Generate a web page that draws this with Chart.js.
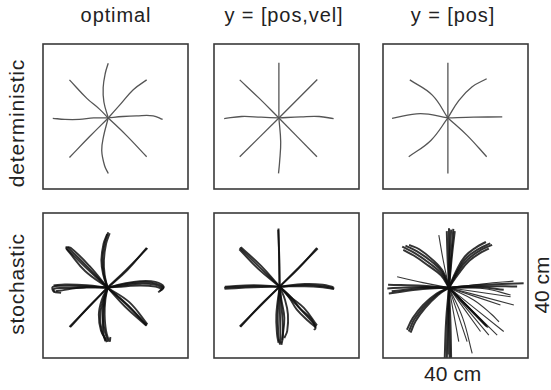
<!DOCTYPE html>
<html>
<head>
<meta charset="utf-8">
<script src="https://cdn.jsdelivr.net/npm/chart.js@4/dist/chart.umd.min.js"></script>
<style>
  body { margin: 0; background: #fff; width: 551px; height: 390px; overflow: hidden; position: relative;
         font-family: "Liberation Sans", Arial, sans-serif; color: #222; }
  .panel { position: absolute; width: 147px; height: 147px; }
  .title { position: absolute; top: 4px; width: 170px; text-align: center; font-size: 20px; letter-spacing: 0.9px; white-space: nowrap; }
  .rowlab { position: absolute; width: 160px; text-align: center; font-size: 21px; letter-spacing: 0.8px; white-space: nowrap;
            transform: rotate(-90deg); transform-origin: center center; }
  .scale { position: absolute; font-size: 21px; white-space: nowrap; }
</style>
</head>
<body>
<div class="title" style="left:31px">optimal</div>
<div class="title" style="left:199px">y = [pos,vel]</div>
<div class="title" style="left:368px">y = [pos]</div>

<div class="rowlab" style="left:-63px; top:111px">deterministic</div>
<div class="rowlab" style="left:-63px; top:272px">stochastic</div>

<canvas class="panel" id="p1" width="147" height="147" style="left:42px; top:43px"></canvas>
<canvas class="panel" id="p2" width="147" height="147" style="left:213px; top:43px"></canvas>
<canvas class="panel" id="p3" width="147" height="147" style="left:382px; top:43px"></canvas>
<canvas class="panel" id="p4" width="147" height="147" style="left:42px; top:212px"></canvas>
<canvas class="panel" id="p5" width="147" height="147" style="left:213px; top:212px"></canvas>
<canvas class="panel" id="p6" width="147" height="147" style="left:382px; top:212px"></canvas>

<div class="scale" style="left:424px; top:362px">40 cm</div>
<div class="scale" style="left:512px; top:273px; width:60px; text-align:center; transform: rotate(-90deg)">40 cm</div>

<script>
// hand positions in cm, workspace is 40 x 40 cm centred on 0,0
// each trajectory is a list of [x, y] points, start point first

const detOptimal = [
  [[-2, -0.4], [-3.2, 4], [-3.4, 8], [-2.8, 12], [-2, 14.7]],
  [[-2, -0.4], [1.2, 3.2], [4.9, 7.4], [8.6, 10.1]],
  [[-2, -0.4], [2, 0], [5.8, 0.2], [10.4, 0.2], [13, -0.8]],
  [[-2, -0.4], [3, -5.2], [8.6, -11.1]],
  [[-2, -0.4], [-3.3, -5.5], [-3.8, -9.4], [-3, -13.6], [-2, -15.7]],
  [[-2, -0.4], [-7.2, -5.6], [-12.7, -11.3]],
  [[-2, -0.4], [-6, -0.4], [-10, -0.8], [-14, -0.8], [-17.3, -0.5]],
  [[-2, -0.4], [-4.5, 2.1], [-7.9, 5], [-12.7, 10.1]]
];

const detPosVel = [
  [[-2.1, -0.4], [-2.1, 7], [-2.1, 14.8]],
  [[-2.1, -0.4], [8.5, 10.2]],
  [[-2.1, -0.4], [4, -0.1], [9, 0], [13, -0.6]],
  [[-2.1, -0.4], [8.4, -11.1]],
  [[-2.1, -0.4], [-1.6, -7], [-1.9, -12.5], [-2.2, -15.7]],
  [[-2.1, -0.4], [-12.9, -11.1]],
  [[-2.1, -0.4], [-7, -0.2], [-12.4, 0], [-17.2, -0.6]],
  [[-2.1, -0.4], [-7.5, 5], [-12.9, 10.1]]
];

const detPos = [
  [[-2.1, -0.4], [-2.1, 14.8]],
  [[-2.1, -0.4], [0.9, 4.4], [4.6, 8.2], [8.6, 10.4]],
  [[-2.1, -0.4], [5, -0.2], [12.9, -0.1]],
  [[-2.1, -0.4], [3.2, -5.2], [8.6, -11.1]],
  [[-2.1, -0.4], [-2.1, -15.7]],
  [[-2.1, -0.4], [-6.8, -6.6], [-12.9, -11.1]],
  [[-2.1, -0.4], [-9.7, 0.8], [-17.5, -0.5]],
  [[-2.1, -0.4], [-6.4, 5.9], [-12.6, 10.1]]
];

const stoOptimal = [
  // up
  [[-2.2, -0.6], [-3.2, 3], [-3.6, 7], [-3, 11.5], [-2, 14.7]],
  [[-2.2, -0.6], [-3, 3], [-3.2, 7], [-2.6, 11.5], [-1.6, 14.4]],
  [[-2.2, -0.6], [-3.4, 3], [-3.9, 7], [-3.3, 11.5], [-2.3, 14.2]],
  // up-right
  [[-2.2, -0.6], [3, 4.4], [8.8, 10.3]],
  [[-2.2, -0.6], [3.2, 4.2], [8.6, 10.4]],
  // right
  [[-2.2, -0.6], [2.2, 0.3], [6.8, 0.9], [10.9, 0.6], [13.2, -0.6], [11.8, -1.9]],
  [[-2.2, -0.6], [2.2, 0], [6.8, 0.5], [11, 0.2], [13, -0.6]],
  [[-2.2, -0.6], [2.2, 0.5], [6.8, 1.2], [11, 1], [13.3, -0.3], [12.2, -1.5]],
  [[-2.2, -0.6], [3, -0.2], [7, 0], [11, -0.3], [12.8, -0.9]],
  // down-right
  [[-2.2, -0.6], [3.2, -5.2], [8.6, -10.9]],
  [[-2.2, -0.6], [2.6, -5.8], [8.4, -11]],
  [[-2.2, -0.6], [3.8, -4.6], [8.8, -10.7]],
  [[-2.2, -0.6], [3.4, -5.6], [8.6, -11.1]],
  // down
  [[-2.2, -0.6], [-3.2, -4], [-3.6, -8], [-3, -12.5], [-2, -15.5]],
  [[-2.2, -0.6], [-3.8, -4], [-4.6, -8], [-4, -12.5], [-2.6, -15]],
  [[-2.2, -0.6], [-2.8, -4], [-3, -8], [-2.6, -12.5], [-1.6, -15.3], [-1.4, -14.2]],
  [[-2.2, -0.6], [-3.4, -4], [-4.2, -8], [-3.8, -12.5], [-2.4, -15.6]],
  [[-2.2, -0.6], [-3, -4], [-3.4, -8.5], [-3.4, -13], [-2.8, -15.4]],
  // down-left
  [[-2.2, -0.6], [-12.7, -11.4]],
  [[-2.2, -0.6], [-7.5, -6], [-12.5, -11.5]],
  // left
  [[-2.2, -0.6], [-8, -0.2], [-14, -0.1], [-17.3, -0.4], [-17, -1.7], [-15, -2]],
  [[-2.2, -0.6], [-8, -0.6], [-14, -0.7], [-17, -0.9], [-16.8, -1.9]],
  [[-2.2, -0.6], [-8, 0.1], [-14, 0.3], [-17.1, 0]],
  [[-2.2, -0.6], [-8, -0.4], [-14, -1.2], [-16.5, -1.6]],
  // up-left
  [[-2.2, -0.6], [-7.8, 4.6], [-13.7, 10.4]],
  [[-2.2, -0.6], [-7.2, 5.4], [-12.4, 10.4], [-13.8, 10.6]],
  [[-2.2, -0.6], [-8.4, 4], [-12.8, 9.2], [-13.6, 10.2]],
  [[-2.2, -0.6], [-7.6, 5], [-13.2, 10.6]]
];

const stoPosVel = [
  // up
  [[-1.9, -0.3], [-2.2, 15.7]],
  [[-1.9, -0.3], [-2, 8], [-2.3, 15.4]],
  // up-right
  [[-1.9, -0.3], [8.6, 10.2]],
  [[-1.9, -0.3], [3.4, 4.8], [8.4, 10.4]],
  // right
  [[-1.9, -0.3], [5, 0.1], [10, -0.2], [13.2, -0.8]],
  [[-1.9, -0.3], [5, 0.4], [10, 0.2], [13, -0.5]],
  [[-1.9, -0.3], [5, -0.2], [10, -0.5], [13.1, -1]],
  // down-right
  [[-1.9, -0.3], [3.2, -5.8], [8.2, -11.3]],
  [[-1.9, -0.3], [1.5, -3.5], [3.8, -6.4], [6.8, -9.2], [8, -11.7], [7.6, -12.3]],
  [[-1.9, -0.3], [0.8, -3.4], [2.8, -6.6], [6, -9.8], [8.2, -11.6]],
  [[-1.9, -0.3], [1.2, -3.2], [4.8, -6.2], [8.4, -11]],
  // down
  [[-1.9, -0.3], [-1.8, -8], [-1.6, -16]],
  [[-1.9, -0.3], [-2.4, -8], [-2.2, -14], [-1.8, -16.3]],
  [[-1.9, -0.3], [-1.2, -8], [-1, -14], [-1.4, -16.4]],
  [[-1.9, -0.3], [-0.4, -4], [0.4, -8], [0.2, -12.5], [-0.6, -14.5]],
  [[-1.9, -0.3], [-2.8, -8], [-2.6, -13.5], [-2.2, -15.8]],
  [[-1.9, -0.3], [-1.4, -4], [-0.6, -9], [-1.2, -15]],
  // down-left
  [[-1.9, -0.3], [-12.9, -11.3]],
  [[-1.9, -0.3], [-7.4, -5.6], [-12.7, -11.4]],
  // left
  [[-1.9, -0.3], [-9, -0.2], [-17.2, -0.6]],
  [[-1.9, -0.3], [-9, 0.1], [-17, -0.3]],
  [[-1.9, -0.3], [-9, -0.5], [-17.1, -0.9]],
  // up-left
  [[-1.9, -0.3], [-7.4, 5], [-12.9, 10.4]],
  [[-1.9, -0.3], [-7, 5.4], [-12.6, 10.6]],
  [[-1.9, -0.3], [-7.8, 4.6], [-13, 10]]
];

// y = [pos]: dense bundles toward the targets ...
const stoPos = [
  // up
  [[-1.8, -0.6], [-1.8, 15.8]],
  [[-1.8, -0.6], [-1.2, 8], [-0.6, 15.6]],
  [[-1.8, -0.6], [-1.6, 8], [-1.2, 15.4]],
  [[-1.8, -0.6], [-2.2, 8], [-2.4, 15]],
  [[-1.8, -0.6], [-1, 8], [-0.2, 15]],
  // up-right
  [[-1.8, -0.6], [0.6, 3.6], [3.4, 7.2], [7, 9.8], [10.1, 11.2]],
  [[-1.8, -0.6], [0.4, 3.8], [3, 7.6], [6.6, 10.2], [9.6, 11.6]],
  [[-1.8, -0.6], [0.8, 3.2], [3.8, 6.8], [7.2, 9.2], [9.2, 10.2]],
  [[-1.8, -0.6], [0.2, 4], [2.6, 8], [5.8, 10.6], [8.4, 12]],
  // up-left
  [[-1.8, -0.6], [-3.8, 3.2], [-7, 6], [-11, 8.8], [-14.7, 10.7]],
  [[-1.8, -0.6], [-3.6, 3.6], [-6.6, 6.6], [-10.6, 9.4], [-13.8, 11]],
  [[-1.8, -0.6], [-4, 2.8], [-7.4, 5.4], [-11.4, 8.2], [-14.4, 9.8]],
  [[-1.8, -0.6], [-3.4, 3.8], [-6.2, 7], [-10, 10], [-12.8, 11.2]],
  // left
  [[-1.8, -0.6], [-9, -0.4], [-18.8, -0.8]],
  [[-1.8, -0.6], [-9, -1], [-18.4, -2.2]],
  [[-1.8, -0.6], [-9, -0.1], [-18.6, 0.2]],
  [[-1.8, -0.6], [-9, -0.7], [-17.6, -1.6]],
  // down-left
  [[-1.8, -0.6], [-5, -2.4], [-8.7, -5.8], [-11.4, -9.4], [-12.9, -12.7]],
  [[-1.8, -0.6], [-5.2, -2.2], [-9, -5.4], [-11.8, -9], [-13.4, -12.2]],
  [[-1.8, -0.6], [-4.8, -2.6], [-8.4, -6.2], [-11, -9.8], [-12.4, -13]],
  // down
  [[-1.8, -0.6], [-2.2, -10], [-2.4, -21]],
  [[-1.8, -0.6], [-1.8, -10], [-1.6, -21]],
  [[-1.8, -0.6], [-2.6, -10], [-3, -21]],
  [[-1.8, -0.6], [-1.4, -10], [-1.2, -20.5]],
  // right
  [[-1.8, -0.6], [8, -0.2], [17, -0.3]],
  [[-1.8, -0.6], [8, 0.2], [18.8, 0.6]],
  [[-1.8, -0.6], [7, -0.5], [13.3, -1.2]],
  [[-1.8, -0.6], [8.7, -11.4]],
  [[-1.8, -0.6], [8.4, -11]]
];

// ... and the looser single reaches
const stoPosStray = [
  [[-1.8, -0.6], [-3.4, 7], [-4.6, 13.9]],
  [[-1.8, -0.6], [-9, 0.8], [-16.1, 2.4]],
  [[-1.8, -0.6], [8, -0.9], [15.2, -2.6]],
  [[-1.8, -0.6], [8, 0.5], [16, 1.2]],
  [[-1.8, -0.6], [-2, -10], [-2, -19]],
  [[-1.8, -0.6], [13.3, -12.7]],
  [[-1.8, -0.6], [11.5, -13.7]],
  [[-1.8, -0.6], [9.2, -13.7]],
  [[-1.8, -0.6], [6.9, -12.7]],
  [[-1.8, -0.6], [2, -9], [4.6, -18.7]],
  [[-1.8, -0.6], [3.2, -15.5]],
  [[-1.8, -0.6], [0.9, -15.5]],
  [[-1.8, -0.6], [16.1, -5.4]],
  [[-1.8, -0.6], [15.2, -3.1]],
  [[-1.8, -0.6], [12.4, -5.4]],
  [[-1.8, -0.6], [9, -11.6]],
  [[-1.8, -0.6], [5, -4], [10, -8], [12, -10]]
];

// draws the square frame round the plot area
const boxFrame = {
  id: 'boxFrame',
  afterDraw(chart) {
    const { ctx, chartArea: a } = chart;
    ctx.save();
    ctx.strokeStyle = '#3a3a3a';
    ctx.lineWidth = 1.6;
    ctx.strokeRect(a.left, a.top, a.right - a.left, a.bottom - a.top);
    ctx.restore();
  }
};

function lineSet(trajectories, color, width) {
  return trajectories.map(t => ({
    data: t.map(p => ({ x: p[0], y: p[1] })),
    showLine: true,
    borderColor: color,
    borderWidth: width,
    pointRadius: 0,
    tension: 0.4,
    fill: false,
    clip: 0
  }));
}

function createPanel(canvasId, datasets) {
  const ctx = document.getElementById(canvasId).getContext('2d');
  return new Chart(ctx, {
    type: 'scatter',
    data: { datasets: datasets },
    options: {
      responsive: false,
      animation: false,
      layout: { padding: 1 },
      plugins: { legend: { display: false }, tooltip: { enabled: false } },
      scales: {
        x: { type: 'linear', min: -20, max: 20, display: false },
        y: { type: 'linear', min: -20, max: 20, display: false }
      }
    },
    plugins: [boxFrame]
  });
}

const detColor = '#555555';
const stoColor = 'rgba(15,15,15,0.85)';

createPanel('p1', lineSet(detOptimal, detColor, 1.3));
createPanel('p2', lineSet(detPosVel, detColor, 1.3));
createPanel('p3', lineSet(detPos, detColor, 1.3));
createPanel('p4', lineSet(stoOptimal, stoColor, 1.9));
createPanel('p5', lineSet(stoPosVel, stoColor, 1.9));
createPanel('p6', lineSet(stoPos, stoColor, 2).concat(lineSet(stoPosStray, 'rgba(20,20,20,0.85)', 1.1)));
</script>
</body>
</html>
